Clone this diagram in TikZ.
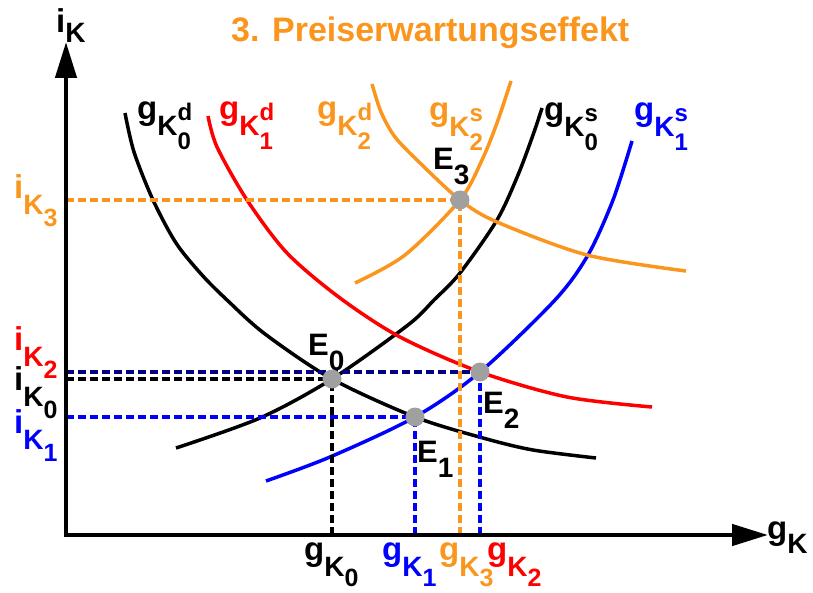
\documentclass[tikz,border=0pt]{standalone}
\usepackage{fontspec}
\setmainfont{Liberation Sans}
\usetikzlibrary{arrows.meta}
\definecolor{orng}{RGB}{250,150,30}
\definecolor{navyc}{RGB}{0,0,128}
\definecolor{ptgray}{RGB}{160,160,160}
\newcommand{\fs}[1]{\fontsize{#1}{#1}\selectfont}
\newcommand{\labk}[3][28]{{\fs{33}#2}\raisebox{-16pt}{\fs{28}K}\raisebox{-#1pt}{\fs{25}#3}}
\newcommand{\labks}[3]{{\fs{33}#1}\raisebox{-16pt}{\fs{28}K}\rlap{\raisebox{-30pt}{\fs{24}#2}}\raisebox{-1pt}{\fs{24}#3}}
\newcommand{\elab}[1]{{\fs{31}E}\raisebox{-15pt}{\fs{28}#1}}
\tikzset{
  curve/.style={line width=3.5pt},
  guide/.style={line width=3.5pt, dash pattern=on 8pt off 4pt},
  eq/.style={circle, fill=ptgray, minimum size=19pt, inner sep=0pt},
  lab/.style={inner sep=0pt, anchor=base west, font=\bfseries},
  axisline/.style={line width=4.5pt, line join=miter,
    {Triangle[length=36pt,width=21pt]}-{Triangle[length=36pt,width=21pt]}}
}
\begin{document}
\begin{tikzpicture}[x=1pt,y=-1pt]
\useasboundingbox (0,0) rectangle (813,593);
% key points
\coordinate (P0) at (332,379);
\coordinate (P1) at (415,417);
\coordinate (P2) at (480,372);
\coordinate (P3) at (460,200);
\coordinate (O) at (66,535);
\coordinate (Ytop) at (66,42);
\coordinate (Xend) at (768,535);
% curves
\draw[curve, black] plot[smooth] coordinates {(125,113) (134,152) (153,200) (176,243) (202,275) (227,300) (265,334) (332,379) (415,417) (483,438) (533,450) (596,458)};
\draw[curve, black] plot[smooth] coordinates {(176,448) (260,418) (332,379) (408,325) (434,300) (460,273) (497,220) (518,175) (533,135) (542,108)};
\draw[curve, blue] plot[smooth] coordinates {(266,481) (330,457) (415,417) (480,372) (555,300) (588,255) (613,200) (632,141)};
\draw[curve, red] plot[smooth] coordinates {(208,116) (217,147) (247,200) (287,253) (340,298) (400,337) (480,372) (567,397) (652,407)};
\draw[curve, orng] plot[smooth] coordinates {(372,84) (381,112) (395,137) (420,163) (460,200) (497,222) (587,255) (686,271)};
\draw[curve, orng] plot[smooth] coordinates {(355,283) (405,255) (460,200) (482,160) (497,123) (511,81)};
% guide lines
\draw[guide, orng] (P3 -| O) -- (P3);
\draw[guide, orng] (P3 |- O) -- (P3);
\draw[guide, black] (P0 -| O) -- (P0);
\draw[guide, black] (P0 |- O) -- (P0);
\draw[guide, blue] (P1 -| O) -- (P1);
\draw[guide, blue] (P1 |- O) -- (P1);
\draw[guide, navyc] (P2 -| O) -- (P2);
\draw[guide, blue] (P2 |- O) -- (P2);
% axes
\draw[axisline] (Ytop) -- (O) -- (Xend);
% equilibrium points
\node[eq] (E0) at (P0) {};
\node[eq] (E1) at (P1) {};
\node[eq] (E2) at (P2) {};
\node[eq] (E3) at (P3) {};
% title
\node[lab, orng, font=\bfseries\fs{34}] (title) at (231,42) {3. Preiserwartungseffekt};
% axis labels
\node[lab] (iK) at (56,33) {{\fs{33}i}\raisebox{-10pt}{\fs{28}K}};
\node[lab] (gK) at (767,539) {{\fs{33}g}\raisebox{-14pt}{\fs{28}K}};
% curve labels
\node[lab] (ld0) at (137,120) {\labks{g}{0}{d}};
\node[lab, red] (ld1) at (219,120) {\labks{g}{1}{d}};
\node[lab, orng] (ld2) at (317,120) {\labks{g}{2}{d}};
\node[lab, orng] (ls2) at (429,121) {\labks{g}{2}{s}};
\node[lab] (ls0) at (544,121) {\labks{g}{0}{s}};
\node[lab, blue] (ls1) at (634,121) {\labks{g}{1}{s}};
% x labels
\node[lab] (lx0) at (304,560) {\labk[26]{g}{0}};
\node[lab, blue] (lx1) at (382,560) {\labk[26]{g}{1}};
\node[lab, orng] (lx3) at (439,560) {\labk[26]{g}{3}};
\node[lab, red] (lx2) at (487,560) {\labk[26]{g}{2}};
% y labels
\node[lab, orng] (ly3) at (14,199) {\labk{i}{3}};
\node[lab, red] (ly2) at (14,350) {\labk{i}{2}};
\node[lab] (ly0) at (14,390) {\labk{i}{0}};
\node[lab, blue] (ly1) at (14,433) {\labk{i}{1}};
% E labels
\node[lab] (e0) at (308,355) {\elab{0}};
\node[lab] (e1) at (417,462) {\elab{1}};
\node[lab] (e2) at (483,413) {\elab{2}};
\node[lab] (e3) at (433,170) {\elab{3}};
\end{tikzpicture}
\end{document}
